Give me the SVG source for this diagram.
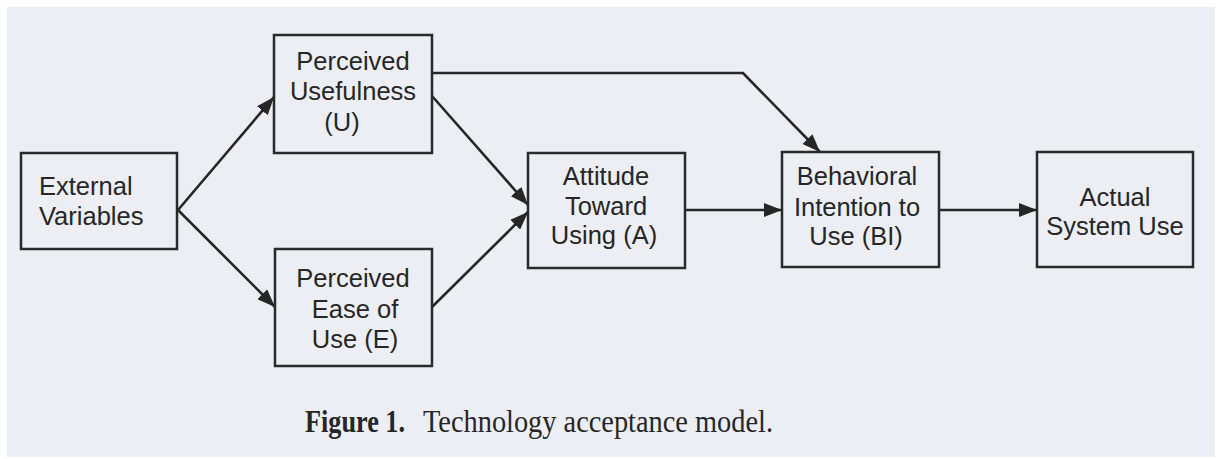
<svg xmlns="http://www.w3.org/2000/svg" width="1217" height="459" viewBox="0 0 1217 459">
  <style>
    .box { fill: none; stroke: #2a2a2a; stroke-width: 2.5; }
    .lbl { font-family: "Liberation Sans", Arial, sans-serif; font-size: 25.5px; fill: #262626; text-anchor: middle; }
    .lbl-l { font-family: "Liberation Sans", Arial, sans-serif; font-size: 25.5px; fill: #262626; }
    .edge { fill: none; stroke: #262626; stroke-width: 2.6; marker-end: url(#ah); }
    .cap { font-family: "Liberation Serif", "Times New Roman", serif; font-size: 32px; fill: #262626; }
  </style>
  <defs>
    <marker id="ah" markerUnits="userSpaceOnUse" markerWidth="19" markerHeight="14" refX="18" refY="7" orient="auto">
      <path d="M0,0 L18,7 L0,14 z" fill="#262626"/>
    </marker>
  </defs>
  <rect x="0" y="0" width="1217" height="459" fill="#ffffff"/>
  <rect x="7" y="7" width="1208" height="450" fill="#eceef3"/>

  <g id="connectors">
    <path class="edge" d="M178,210 L274,97"/>
    <path class="edge" d="M178,210 L275,307"/>
    <path class="edge" d="M432,96 L528,205"/>
    <path class="edge" d="M432,307 L528,212"/>
    <path class="edge" d="M432,73 L743,73 L820,152"/>
    <path class="edge" d="M685,210 L782,210"/>
    <path class="edge" d="M939,210 L1037,210"/>
  </g>

  <g id="external-variables">
    <rect class="box" x="21" y="153" width="156" height="96"/>
    <text class="lbl-l" x="39" y="195">External</text>
    <text class="lbl-l" x="39" y="225">Variables</text>
  </g>

  <g id="perceived-usefulness">
    <rect class="box" x="274" y="35" width="158" height="118"/>
    <text class="lbl" x="353" y="70">Perceived</text>
    <text class="lbl" x="353" y="100">Usefulness</text>
    <text class="lbl" x="342" y="131">(U)</text>
  </g>

  <g id="perceived-ease">
    <rect class="box" x="275" y="249" width="157" height="117"/>
    <text class="lbl" x="353" y="287">Perceived</text>
    <text class="lbl" x="355" y="318">Ease of</text>
    <text class="lbl" x="355" y="348">Use (E)</text>
  </g>

  <g id="attitude">
    <rect class="box" x="528" y="153" width="157" height="115"/>
    <text class="lbl" x="606" y="185">Attitude</text>
    <text class="lbl" x="606" y="215">Toward</text>
    <text class="lbl" x="604" y="244">Using (A)</text>
  </g>

  <g id="behavioral-intention">
    <rect class="box" x="782" y="152" width="157" height="115"/>
    <text class="lbl" x="857" y="185">Behavioral</text>
    <text class="lbl" x="857" y="216">Intention to</text>
    <text class="lbl" x="856" y="245">Use (BI)</text>
  </g>

  <g id="actual-use">
    <rect class="box" x="1037" y="152" width="156" height="115"/>
    <text class="lbl" x="1115" y="206">Actual</text>
    <text class="lbl" x="1115" y="235">System Use</text>
  </g>

  <g id="caption">
    <text class="cap" x="305" y="432" font-weight="bold" textLength="100" lengthAdjust="spacingAndGlyphs">Figure 1.</text>
    <text class="cap" x="423" y="432" textLength="350" lengthAdjust="spacingAndGlyphs">Technology acceptance model.</text>
  </g>
</svg>
